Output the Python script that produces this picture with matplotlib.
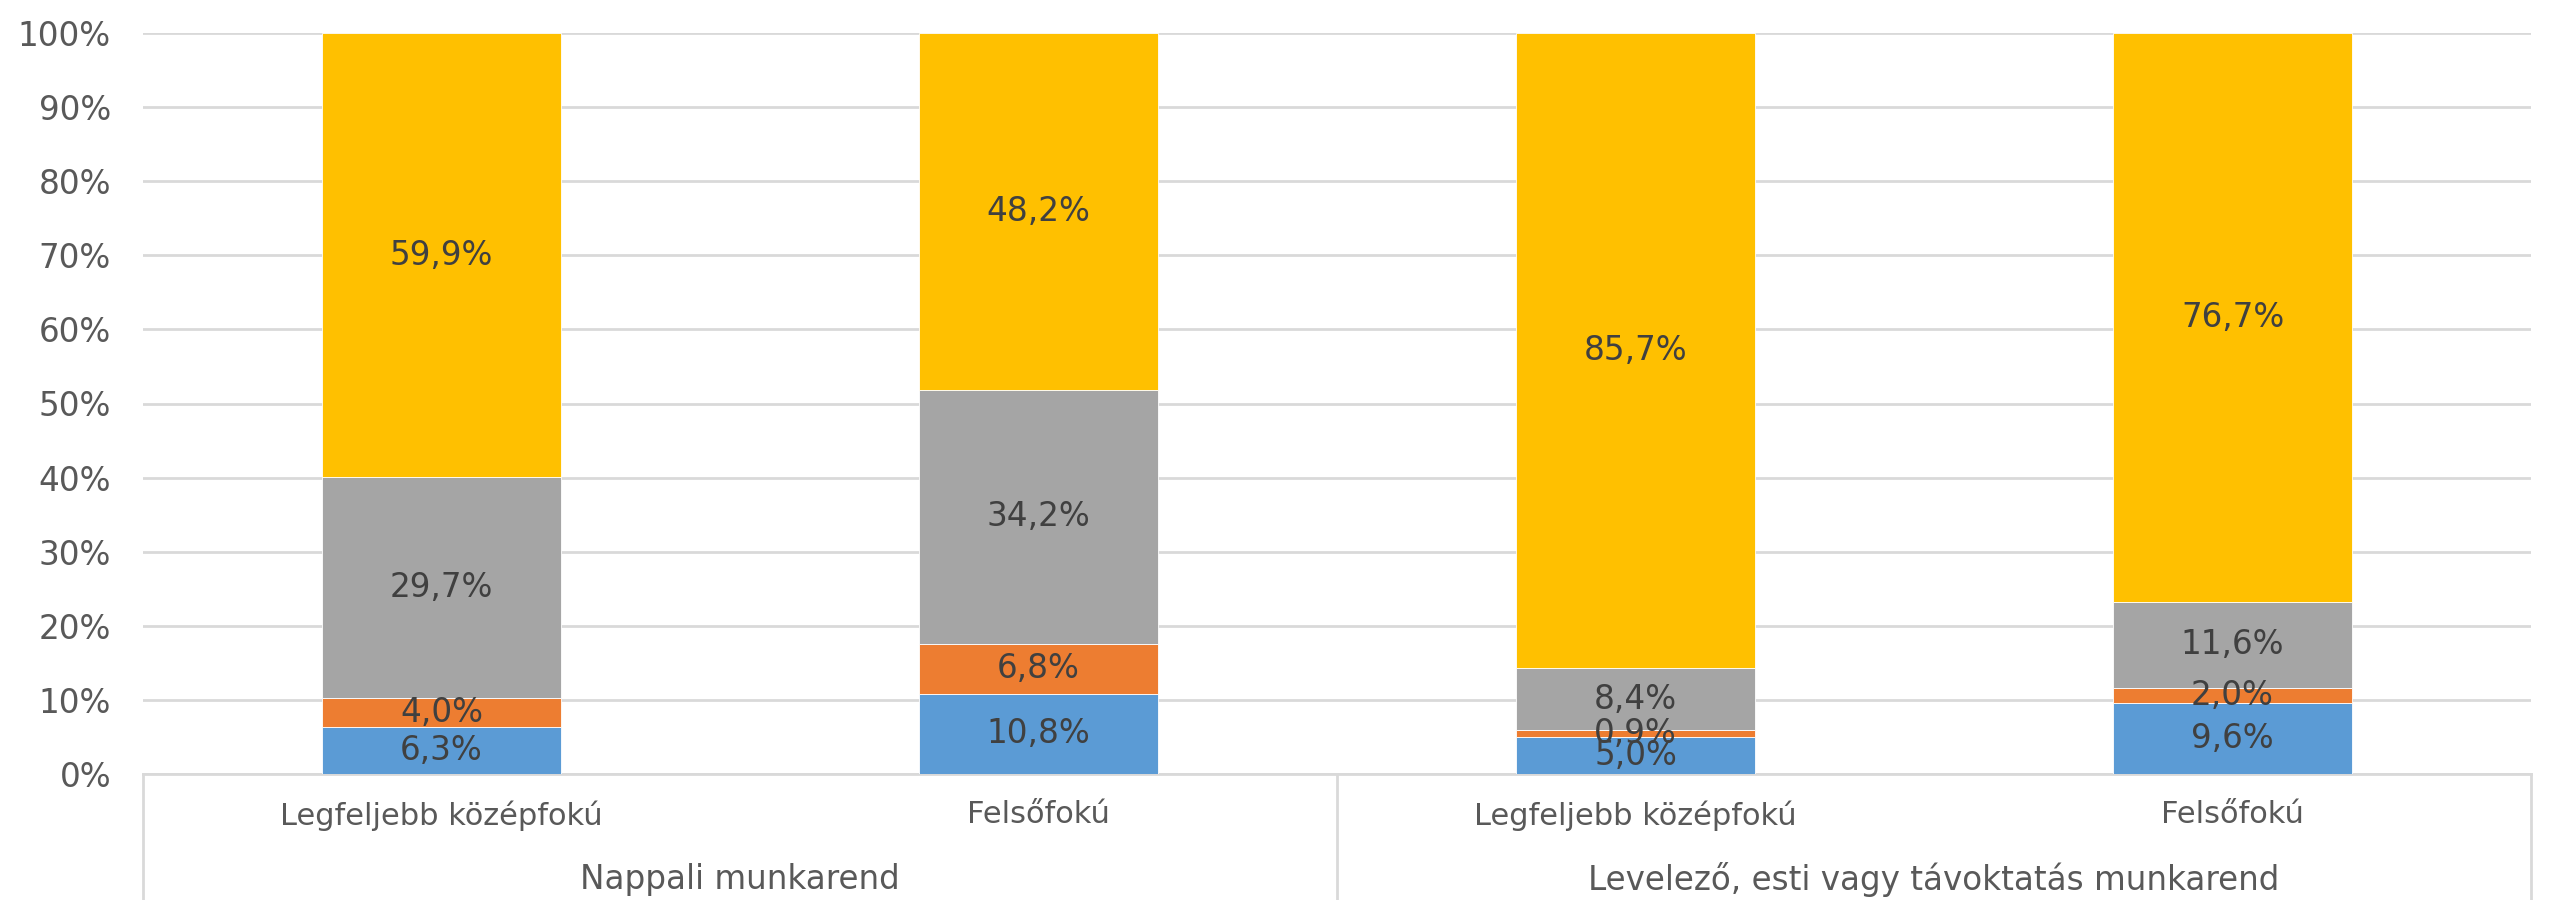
import matplotlib
matplotlib.use("Agg")
import matplotlib.pyplot as plt
from matplotlib.lines import Line2D
import numpy as np

plt.rcParams['font.family'] = ['DejaVu Sans']

groups = ["Nappali munkarend", "Levelező, esti vagy távoktatás munkarend"]
categories = ["Legfeljebb középfokú", "Felsőfokú", "Legfeljebb középfokú", "Felsőfokú"]
s1 = [6.3, 10.8, 5.0, 9.6]
s2 = [4.0, 6.8, 0.9, 2.0]
s3 = [29.7, 34.2, 8.4, 11.6]
s4 = [59.9, 48.2, 85.7, 76.7]
series = [s1, s2, s3, s4]
colors = ["#5B9BD5", "#ED7D31", "#A5A5A5", "#FFC000"]

W, H = 2552, 900
fig = plt.figure(figsize=(W / 100, H / 100), dpi=100)
ax = fig.add_axes([143 / W, (H - 774) / H, (2531 - 143) / W, (774 - 33) / H])

data = np.array(series, dtype=float)
totals = data.sum(axis=0)
shares = data / totals * 100
x = np.arange(len(categories))
bottom = np.zeros(len(categories))
for vals, shr, col in zip(data, shares, colors):
    ax.bar(x, shr, bottom=bottom, width=0.4, color=col, edgecolor="white", linewidth=0.6, zorder=3)
    for xi, v, s, b in zip(x, vals, shr, bottom):
        ax.text(xi, b + s / 2, f"{v:.1f}".replace(".", ",") + "%", ha="center", va="center",
                fontsize=23.5, color="#404040", zorder=4)
    bottom += shr

ax.set_xlim(-0.5, len(categories) - 0.5)
ax.set_ylim(0, 100)
ax.set_yticks(np.arange(0, 101, 10))
ax.set_yticklabels([f"{v}%" for v in range(0, 101, 10)])
ax.yaxis.grid(True, color="#D9D9D9", linewidth=2, zorder=0)
ax.set_axisbelow(True)
ax.tick_params(axis="y", length=0, pad=23, labelsize=23.5, labelcolor="#595959")
ax.set_xticks(x)
ax.set_xticklabels(categories)
ax.tick_params(axis="x", length=0, pad=19, labelsize=22, labelcolor="#595959")
for sp in ["left", "right", "top"]:
    ax.spines[sp].set_visible(False)
ax.spines["bottom"].set_color("#D9D9D9")
ax.spines["bottom"].set_linewidth(2)

# group labels and separators
ybot = -126 / 741
for xs in [0.0, 0.5, 1.0]:
    ax.add_line(Line2D([xs, xs], [0, ybot], transform=ax.transAxes, color="#D9D9D9",
                       linewidth=2, clip_on=False))
for gi, g in enumerate(groups):
    ax.text(0.25 + 0.5 * gi, -0.143, g, transform=ax.transAxes, ha="center", va="center",
            fontsize=23.5, color="#595959")

fig.savefig("out.png", dpi=100, facecolor="white")
